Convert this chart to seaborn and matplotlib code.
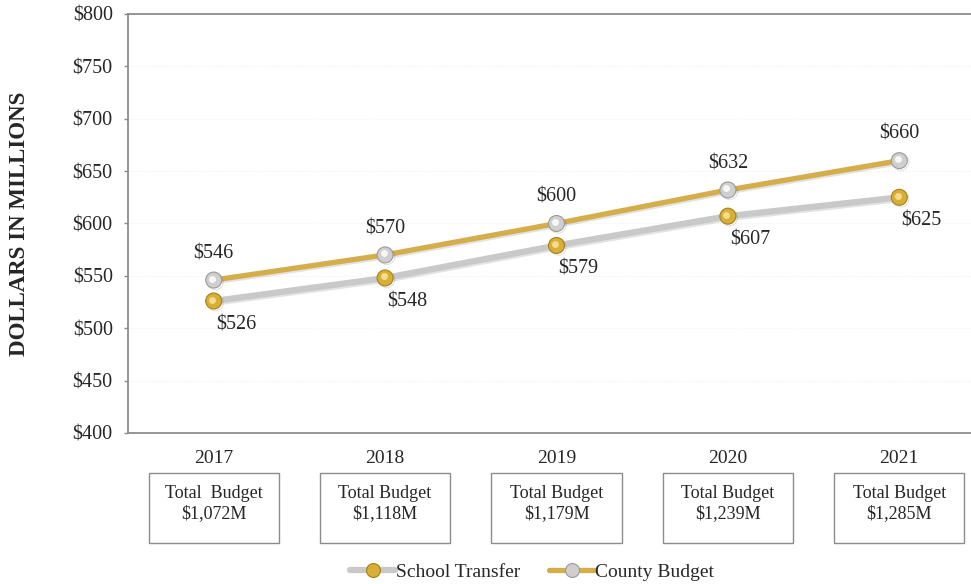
import matplotlib
matplotlib.use('Agg')
import matplotlib.pyplot as plt
import matplotlib.patheffects as pe
import matplotlib.transforms as mtransforms
from matplotlib.patches import Rectangle
from matplotlib.lines import Line2D
from matplotlib.ticker import FuncFormatter, MultipleLocator
import pandas as pd
import seaborn as sns

# Chart data
years = ['2017', '2018', '2019', '2020', '2021']
school_transfer = [526, 548, 579, 607, 625]
county_budget = [546, 570, 600, 632, 660]
total_budget_labels = ['Total  Budget\n$1,072M', 'Total Budget\n$1,118M', 'Total Budget\n$1,179M',
                       'Total Budget\n$1,239M', 'Total Budget\n$1,285M']

# Colours
gold_line = '#D5AE4C'
gray_line = '#C9C9C9'
gold_ball = '#D8AF36'
gold_edge = '#A5801E'
silver_ball = '#CFCFCF'
silver_edge = '#9A9A9A'
spine_gray = '#8C8C8C'

sns.set_style('white')
plt.rcParams['font.family'] = ['Liberation Serif', 'DejaVu Serif']

df = pd.DataFrame({'year': years, 'school': school_transfer, 'county': county_budget})

fig = plt.figure(figsize=(9.71, 5.84), dpi=100)
ax = fig.add_axes([128 / 971, 151 / 584, 857 / 971, 419 / 584])

shadow = [pe.SimpleLineShadow(offset=(1.2, -1.2), alpha=0.15, shadow_color='#444444'), pe.Normal()]

sns.lineplot(data=df, x='year', y='school', ax=ax, color=gray_line, linewidth=4.5,
             marker='o', markersize=11.5, markerfacecolor=gold_ball, markeredgecolor=gold_edge,
             markeredgewidth=0.8, zorder=3, path_effects=shadow)
sns.lineplot(data=df, x='year', y='county', ax=ax, color=gold_line, linewidth=3.8,
             marker='o', markersize=11.5, markerfacecolor=silver_ball, markeredgecolor=silver_edge,
             markeredgewidth=0.8, zorder=4, path_effects=shadow)

# highlight on the balls
hl = ax.transData + mtransforms.ScaledTranslation(-1.5 / 100, 1.5 / 100, fig.dpi_scale_trans)
sns.lineplot(data=df, x='year', y='school', ax=ax, linestyle='none', marker='o', markersize=5,
             markerfacecolor='#F3DC8A', markeredgewidth=0, zorder=5, transform=hl)
sns.lineplot(data=df, x='year', y='county', ax=ax, linestyle='none', marker='o', markersize=5,
             markerfacecolor='#F7F7F7', markeredgewidth=0, zorder=5, transform=hl)

# data labels
for yr, v in zip(years, county_budget):
    ax.annotate(f'${v}', (yr, v), xytext=(0, 19), textcoords='offset points',
                ha='center', va='center', fontsize=14.5)
for yr, v in zip(years, school_transfer):
    ax.annotate(f'${v}', (yr, v), xytext=(16, -17), textcoords='offset points',
                ha='center', va='center', fontsize=14.5)

ax.set_xlim(-0.5, 4.5)
ax.set_ylim(400, 800)
ax.yaxis.set_major_locator(MultipleLocator(50))
ax.yaxis.set_major_formatter(FuncFormatter(lambda v, _: f'${v:.0f}'))
ax.grid(axis='y', color='#EFEFEF', linewidth=0.8, linestyle=':')
ax.set_axisbelow(True)
ax.set_xlabel('')
ax.set_ylabel('')

for side in ['left', 'bottom', 'top']:
    ax.spines[side].set_color(spine_gray)
    ax.spines[side].set_linewidth(1.3)
ax.spines['right'].set_visible(False)

ax.tick_params(axis='y', which='major', left=True, length=3, width=1, color=spine_gray,
               pad=8, labelsize=14.5)
ax.tick_params(axis='x', length=0, pad=12, labelsize=14)

fig.text(20 / 971, 0.617, 'DOLLARS IN MILLIONS', rotation=90, ha='center', va='center',
         fontsize=16.5, fontweight='bold')

# total budget boxes under each year
trans = mtransforms.blended_transform_factory(ax.transData, fig.transFigure)
for i, lbl in enumerate(total_budget_labels):
    rect = Rectangle((i - 0.38, 0.07), 0.76, 0.12, transform=trans, facecolor='none',
                     edgecolor=spine_gray, linewidth=1.0, clip_on=False)
    fig.add_artist(rect)
    ax.text(i, 0.169, lbl, transform=trans, ha='center', va='top', fontsize=13,
            linespacing=1.2, clip_on=False)

handles = [
    Line2D([], [], color=gray_line, linewidth=4.5, marker='o', markersize=10,
           markerfacecolor=gold_ball, markeredgecolor=gold_edge, markeredgewidth=0.8),
    Line2D([], [], color=gold_line, linewidth=3.8, marker='o', markersize=10,
           markerfacecolor=silver_ball, markeredgecolor=silver_edge, markeredgewidth=0.8),
]
fig.legend(handles, ['School Transfer', 'County Budget'], loc='center',
           bbox_to_anchor=(0.548, 0.02), ncol=2, frameon=False, fontsize=14,
           handlelength=2.3, handletextpad=0.05, columnspacing=1.5, numpoints=1)

fig.savefig('out.png', dpi=100)
